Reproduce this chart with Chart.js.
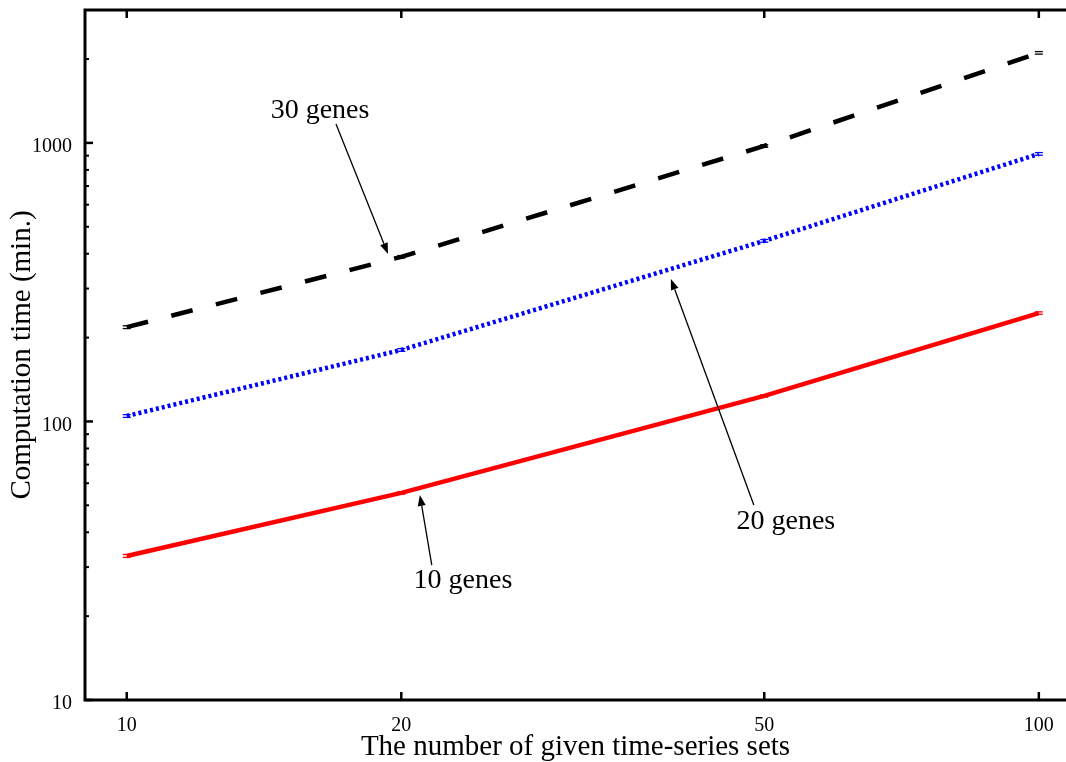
<!DOCTYPE html>
<html><head><meta charset="utf-8">
<script src="https://cdn.jsdelivr.net/npm/chart.js@4"></script>
<style>html,body{margin:0;padding:0;background:#fff}#wrap{width:1066px;height:762px}</style>
</head><body><div id="wrap"><canvas id="c" width="1066" height="762"></canvas></div>
<script>
// ---- data ----
const setSizes = [10, 20, 50, 100];
const genes10 = [32.9, 55.4, 123.5, 245];
const genes20 = [104.6, 180.6, 445, 913];
const genes30 = [218, 390, 975, 2105];
const err10 = [0.4, 0.6, 1.2, 2.4];
const err20 = [1.2, 2.0, 5, 10];
const err30 = [2.5, 4, 10, 22];
const xTicks = [10, 20, 50, 100];
const yTicks = [10, 100, 1000];
const yMinorTicks = [20, 30, 40, 50, 60, 70, 80, 90, 200, 300, 400, 500, 600, 700, 800, 900, 2000, 3000];
const seriesNames = ['10 genes', '20 genes', '30 genes'];
// annotations (data coordinates)
const annText = ['30 genes', '20 genes', '10 genes'];
const annTextX = [16.29, 52.8, 23.37];
const annTextY = [1310, 43.6, 26.8];
const arrowFromX = [16.96, 48.7, 21.6];
const arrowFromY = [1170, 50.1, 30.5];
const arrowToX = [19.34, 39.5, 20.96];
const arrowToY = [399.5, 324.9, 54.5];

const FONT = '"Liberation Serif", "Times New Roman", serif';
const toPts = arr => setSizes.map((x, i) => ({x: x, y: arr[i]}));

const decorPlugin = {
  id: 'decor',
  afterDatasetsDraw(chart) {
    const ctx = chart.ctx;
    const xs = chart.scales.x, ys = chart.scales.y;
    // error caps
    const sets = [[genes10, err10, '#ff0000'], [genes20, err20, '#0000ff'], [genes30, err30, '#000000']];
    ctx.save();
    sets.forEach(([vals, errs, col]) => {
      ctx.strokeStyle = col; ctx.lineWidth = 1.3;
      vals.forEach((v, i) => {
        const px = xs.getPixelForValue(setSizes[i]);
        [v - errs[i], v + errs[i]].forEach(e => {
          const py = ys.getPixelForValue(e);
          ctx.beginPath(); ctx.moveTo(px - 4, py); ctx.lineTo(px + 4, py); ctx.stroke();
        });
      });
    });
    ctx.restore();
  },
  afterDraw(chart) {
    const ctx = chart.ctx;
    const a = chart.chartArea;
    const xs = chart.scales.x, ys = chart.scales.y;
    ctx.save();
    ctx.strokeStyle = '#000';
    // frame
    ctx.lineWidth = 3;
    ctx.beginPath();
    ctx.moveTo(1066 + 5, a.top); ctx.lineTo(a.left, a.top);
    ctx.lineTo(a.left, a.bottom); ctx.lineTo(1066 + 5, a.bottom);
    ctx.stroke();
    // y ticks
    ctx.lineWidth = 2.5;
    yTicks.forEach(v => {
      const py = ys.getPixelForValue(v);
      ctx.beginPath(); ctx.moveTo(a.left, py); ctx.lineTo(a.left + 8, py); ctx.stroke();
    });
    ctx.lineWidth = 2;
    yMinorTicks.forEach(v => {
      const py = ys.getPixelForValue(v);
      if (py < a.top + 2) return;
      ctx.beginPath(); ctx.moveTo(a.left, py); ctx.lineTo(a.left + 4, py); ctx.stroke();
    });
    // x ticks bottom and top
    ctx.lineWidth = 2.5;
    xTicks.forEach(v => {
      const px = xs.getPixelForValue(v);
      ctx.beginPath(); ctx.moveTo(px, a.bottom); ctx.lineTo(px, a.bottom - 8); ctx.stroke();
      ctx.beginPath(); ctx.moveTo(px, a.top); ctx.lineTo(px, a.top + 8); ctx.stroke();
    });
    // annotations
    ctx.fillStyle = '#000';
    ctx.font = '28px ' + FONT;
    ctx.textAlign = 'center'; ctx.textBaseline = 'middle';
    annText.forEach((t, i) => {
      ctx.fillText(t, xs.getPixelForValue(annTextX[i]), ys.getPixelForValue(annTextY[i]));
      const x0 = xs.getPixelForValue(arrowFromX[i]), y0 = ys.getPixelForValue(arrowFromY[i]);
      const x1 = xs.getPixelForValue(arrowToX[i]), y1 = ys.getPixelForValue(arrowToY[i]);
      const ang = Math.atan2(y1 - y0, x1 - x0);
      const L = 11, W = 4;
      const bx = x1 - L * Math.cos(ang), by = y1 - L * Math.sin(ang);
      ctx.lineWidth = 1.3;
      ctx.beginPath(); ctx.moveTo(x0, y0); ctx.lineTo(bx, by); ctx.stroke();
      ctx.beginPath();
      ctx.moveTo(x1, y1);
      ctx.lineTo(bx + W * Math.sin(ang), by - W * Math.cos(ang));
      ctx.lineTo(bx - W * Math.sin(ang), by + W * Math.cos(ang));
      ctx.closePath(); ctx.fill();
    });
    ctx.restore();
  }
};

new Chart(document.getElementById('c'), {
  type: 'line',
  data: {
    datasets: [
      {label: seriesNames[0], data: toPts(genes10), borderColor: '#ff0000', borderWidth: 4.5, pointRadius: 0, tension: 0, fill: false},
      {label: seriesNames[1], data: toPts(genes20), borderColor: '#0000ff', borderWidth: 4.5, borderDash: [3, 3], pointRadius: 0, tension: 0, fill: false},
      {label: seriesNames[2], data: toPts(genes30), borderColor: '#000000', borderWidth: 4.5, borderDash: [22, 24], pointRadius: 0, tension: 0, fill: false}
    ]
  },
  options: {
    responsive: false,
    devicePixelRatio: 1,
    animation: false,
    layout: {padding: {top: 10, right: 0, left: 0, bottom: 0}},
    plugins: {legend: {display: false}, tooltip: {enabled: false}},
    scales: {
      x: {
        type: 'logarithmic', min: 9, max: 107.1,
        afterBuildTicks: s => { s.ticks = xTicks.map(v => ({value: v})); },
        afterFit: s => { s.height = 62; s.paddingLeft = 0; s.paddingRight = 0; },
        ticks: {callback: v => String(v), font: {family: FONT, size: 20}, color: '#000', padding: 14, maxRotation: 0, autoSkip: false},
        grid: {display: false, drawTicks: false},
        border: {display: false},
        title: {display: true, text: 'The number of given time-series sets', color: '#000', font: {family: FONT, size: 29, lineHeight: 1}, padding: 0}
      },
      y: {
        type: 'logarithmic', min: 10, max: 3000,
        afterBuildTicks: s => { s.ticks = yTicks.map(v => ({value: v})); },
        afterFit: s => { s.width = 85; s.paddingTop = 0; s.paddingBottom = 0; },
        ticks: {callback: v => String(v), font: {family: FONT, size: 20}, color: '#000', padding: 13, labelOffset: 4, autoSkip: false},
        grid: {display: false, drawTicks: false},
        border: {display: false},
        title: {display: true, text: 'Computation time (min.)', color: '#000', font: {family: FONT, size: 29, lineHeight: 1}, padding: {top: 8, bottom: 0}}
      }
    }
  },
  plugins: [decorPlugin]
});
</script>
</body></html>
